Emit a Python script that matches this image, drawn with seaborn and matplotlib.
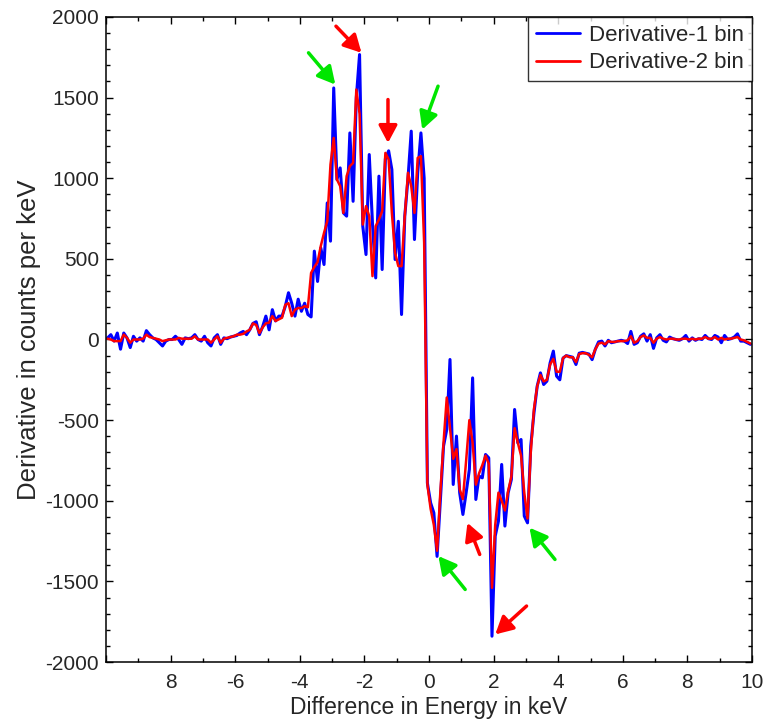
import matplotlib
matplotlib.use("Agg")
import matplotlib.pyplot as plt
from matplotlib.ticker import MultipleLocator
import numpy as np
import pandas as pd
import seaborn as sns

# energy bins (keV): centre of first bin and bin width
BIN_START = -9.95
BIN_WIDTH = 0.1

# derivative, 1-bin difference (counts per keV)
DERIV_1BIN = [
    10, 30, -10, 40, -60, 40, 10, -50, 20, -10,
    10, -10, 55, 30, 10, 0, -20, -40, -10, 0,
    0, 20, 0, -30, 10, 5, 10, 30, 0, -10,
    20, -20, -40, 10, 30, -30, 10, 5, 15, 20,
    25, 40, 50, 30, 60, 100, 110, 30, 80, 145,
    60, 185, 115, 145, 145, 205, 290, 225, 145, 250,
    175, 225, 155, 140, 548, 360, 568, 465, 847, 610,
    1560, 992, 1064, 785, 765, 1281, 857, 1500, 1767, 702,
    527, 1147, 720, 382, 1013, 434, 1120, 1170, 1054, 496,
    733, 155, 765, 1000, 1292, 620, 1033, 1281, 1000, -890,
    -1013, -1075, -1345, -1000, -661, -558, -124, -899, -599, -951,
    -1085, -950, -806, -238, -992, -847, -858, -713, -734, -1840,
    -1219, -1126, -775, -1157, -951, -868, -434, -641, -620, -1095,
    -1137, -661, -455, -289, -207, -279, -258, -145, -72, -227,
    -250, -115, -100, -105, -110, -155, -85, -80, -85, -90,
    -125, -60, -15, -10, -40, -5, -20, -15, -10, -5,
    -10, -25, 50, -30, -20, 20, 35, -10, 30, -55,
    10, 30, -5, -15, 15, 5, 0, -5, 5, 25,
    -10, 10, -5, 5, 0, 25, 5, 0, 25, 15,
    -20, 25, 0, 5, 15, 35, -10, -10, -20, -30,
]

# derivative, 2-bin difference (counts per keV)
DERIV_2BIN = [
    5, 0, -10, -10, -10, 30, 10, -20, 0, 0,
    0, 5, 30, 15, 10, 5, 0, -10, -5, 0,
    0, 0, 10, 5, 5, 5, 5, 20, 0, 0,
    0, 0, -20, 0, 20, -20, 5, 10, 15, 20,
    30, 30, 35, 50, 60, 100, 90, 40, 75, 100,
    105, 145, 115, 125, 135, 215, 225, 145, 185, 195,
    195, 207, 200, 413, 450, 480, 580, 661, 734, 1085,
    1250, 992, 951, 785, 1013, 1075, 1095, 1550, 1400, 713,
    827, 765, 393, 703, 744, 796, 1157, 1116, 785, 537,
    455, 455, 765, 1034, 951, 785, 1126, 1137, 600, -900,
    -1050, -1150, -1310, -950, -640, -360, -550, -740, -680, -930,
    -990, -750, -500, -640, -900, -830, -780, -720, -770, -1540,
    -1150, -950, -1000, -1060, -940, -850, -550, -640, -720, -950,
    -1110, -700, -430, -290, -220, -260, -250, -155, -120, -200,
    -200, -115, -100, -110, -110, -140, -90, -85, -85, -95,
    -110, -60, -25, -20, -30, -10, -15, -15, -10, -10,
    -10, -5, 20, -20, -10, 15, 25, 10, 10, -20,
    5, 15, 5, 0, 5, 5, 0, 0, 5, 5,
    0, 5, 0, 5, 5, 15, 5, 5, 15, 0,
    10, 0, 5, 5, 10, 15, 0, -5, -15, -25,
]

SERIES_NAMES = ["Derivative-1 bin", "Derivative-2 bin"]
SERIES_COLORS = ["#0000ff", "#ff0000"]

X_TICKS = [-10, -8, -6, -4, -2, 0, 2, 4, 6, 8, 10]
X_TICK_LABELS = ["", "8", "-6", "-4", "-2", "0", "2", "4", "6", "8", "10"]
Y_TICKS = [-2000, -1500, -1000, -500, 0, 500, 1000, 1500, 2000]
Y_TICK_LABELS = ["-2000", "-1500", "-1000", "-500", "0", "500", "1000", "1500", "2000"]

# arrows: (tail, head) in data coordinates
GREEN_ARROWS = [
    ((-3.73, 1778), (-2.90, 1581)),
    ((0.28, 1571), (-0.21, 1302)),
    ((1.12, -1550), (0.29, -1343)),
    ((3.90, -1364), (3.11, -1167)),
]
RED_ARROWS = [
    ((-2.88, 1943), (-2.09, 1778)),
    ((-1.27, 1488), (-1.27, 1219)),
    ((1.57, -1333), (1.19, -1137)),
    ((3.02, -1653), (2.05, -1829)),
]

sns.set_style("ticks")
plt.rcParams["font.family"] = ["Liberation Sans", "DejaVu Sans"]
plt.rcParams["axes.unicode_minus"] = False

energy = BIN_START + BIN_WIDTH * np.arange(len(DERIV_1BIN))
df = pd.DataFrame({
    "energy": np.concatenate([energy, energy]),
    "value": DERIV_1BIN + DERIV_2BIN,
    "series": [SERIES_NAMES[0]] * len(DERIV_1BIN) + [SERIES_NAMES[1]] * len(DERIV_2BIN),
})

fig = plt.figure(figsize=(7.64, 7.19), dpi=100)
ax = fig.add_axes([106 / 764, 1 - 662 / 719, 646 / 764, 645 / 719])

widths = [2.2, 1.8]
for name, color, lw in zip(SERIES_NAMES, SERIES_COLORS, widths):
    sns.lineplot(data=df[df["series"] == name], x="energy", y="value",
                 color=color, linewidth=lw, label=name, ax=ax,
                 estimator=None, sort=False)

for arrows, color in [(GREEN_ARROWS, "#00e600"), (RED_ARROWS, "#ff0000")]:
    for tail, head in arrows:
        ax.annotate("", xy=head, xytext=tail,
                    arrowprops=dict(arrowstyle="-|>,head_length=0.75,head_width=0.4",
                                    mutation_scale=14, color=color, lw=2.5,
                                    shrinkA=0, shrinkB=0))

ax.set_xlim(-10, 10)
ax.set_ylim(-2000, 2000)
ax.set_xticks(X_TICKS)
ax.set_xticklabels(X_TICK_LABELS)
ax.set_yticks(Y_TICKS)
ax.set_yticklabels(Y_TICK_LABELS)
ax.xaxis.set_minor_locator(MultipleLocator(1))
ax.yaxis.set_minor_locator(MultipleLocator(100))
ax.tick_params(which="both", direction="in", top=True, right=True,
               labelsize=15, width=1.0, color="black")
ax.tick_params(axis="x", which="major", length=5, pad=8)
ax.tick_params(axis="y", which="major", length=5, pad=5)
ax.tick_params(which="minor", length=3)
for spine in ax.spines.values():
    spine.set_linewidth(1.1)
    spine.set_color("black")

ax.set_xlabel("Difference in Energy in keV", fontsize=16.5, labelpad=3)
ax.set_ylabel("Derivative in counts per keV", fontsize=18.5, labelpad=3)

leg = ax.legend(loc="upper right", fontsize=16, frameon=True, fancybox=False,
                edgecolor="black", borderaxespad=0, handlelength=2.0,
                handletextpad=0.4, borderpad=0.35, labelspacing=0.3)
leg.get_frame().set_linewidth(1.0)
for line in leg.get_lines():
    line.set_linewidth(2.0)

fig.savefig("out.png", dpi=100)
